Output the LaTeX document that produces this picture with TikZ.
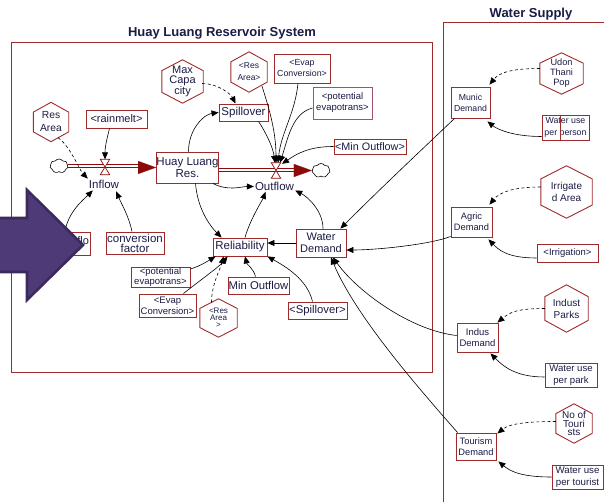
\documentclass[tikz,border=0pt]{standalone}
\usepackage{fontspec}
\setmainfont{Liberation Sans}
\usetikzlibrary{arrows.meta,calc,shapes.symbols}
\definecolor{boxred}{HTML}{9E2A2B}
\definecolor{pipered}{HTML}{8B0A0A}
\definecolor{txt}{HTML}{1B1B45}
\definecolor{potpurp}{HTML}{A0507A}
\definecolor{arrfill}{HTML}{4F3A78}
\definecolor{arrline}{HTML}{3A2A5E}
\newcommand\myfs[2]{\fontsize{#1}{#2}\selectfont}
\newcommand\hexnode[6][]{%
  \node[hexlbl,#1,minimum width=#4,minimum height=#5] (#2) at (#3) {#6};
  \draw[hexline] (#2.north) -- ($(#2.north east)!0.25!(#2.south east)$) -- ($(#2.north east)!0.75!(#2.south east)$) -- (#2.south) -- ($(#2.north west)!0.75!(#2.south west)$) -- ($(#2.north west)!0.25!(#2.south west)$) -- cycle;}
\begin{document}
\begin{tikzpicture}[x=1pt,y=-1pt,
  box/.style={draw=boxred, line width=0.9pt, fill=white, text=txt, align=center, inner sep=0pt},
  hexlbl/.style={rectangle, inner sep=0pt, text=txt, align=center},
  hexline/.style={draw=boxred, line width=0.9pt, line join=miter},
  plainlbl/.style={text=txt, inner sep=1pt, font=\myfs{11.5}{12}},
  conn/.style={draw=black, line width=0.6pt, -{Triangle[length=7pt,width=6pt]}},
  dconn/.style={conn, dash pattern=on 3pt off 2.5pt},
  pipe/.style={draw=pipered, line width=0.9pt, double=white, double distance=2.4pt},
  flowhead/.style={draw=pipered, line width=0.1pt, -{Triangle[length=18pt,width=13pt,fill=pipered]}},
  cloudn/.style={cloud, cloud puffs=7, cloud puff arc=110, draw=black, fill=white, line width=0.6pt, minimum width=18pt, minimum height=14pt, inner sep=0pt, aspect=1.2},
  valve/.style={rectangle, inner sep=0pt, minimum width=9pt, minimum height=15pt},
  valveline/.style={draw=pipered, line width=0.7pt, fill=white},
  frame/.style={draw=boxred, line width=1pt},
  title/.style={text=txt, font=\bfseries\myfs{13}{14}},
]
\useasboundingbox (0,0) rectangle (604,502);
% frames
\draw[frame] (11,43) rectangle (432,372);
\draw[frame] (443,510) -- (443,23) -- (610,23);
\node[title] (t1) at (222,33) {Huay Luang Reservoir System};
\node[title] (t2) at (531,14) {Water Supply};

% stocks, flows
\node[box, font=\myfs{11.5}{11.5}, minimum width=61pt, minimum height=31pt] (res) at (187.5,167.5) {Huay Luang\\Res.};
\node[cloudn] (cloudA) at (59,166) {};
\node[cloudn] (cloudB) at (321,170.5) {};
\node[valve] (vin) at (105,167) {};
\node[valve] (vout) at (276,170.5) {};
\draw[pipe, shorten >=17pt] (cloudA.east) -- (cloudA.east -| res.west);
\draw[flowhead] ([xshift=-18pt]res.west) -- (res.west);
\draw[pipe, shorten >=17pt] ([yshift=-2.5pt]res.east) -- ([yshift=-2.5pt]res.east -| cloudB.west);
\draw[flowhead] ([xshift=-18pt]cloudB.west) -- (cloudB.west);
\draw[valveline] (vin.north west) -- (vin.north east) -- (vin.south west) -- (vin.south east) -- cycle;
\draw[valveline] (vout.north west) -- (vout.north east) -- (vout.south west) -- (vout.south east) -- cycle;
\node[plainlbl] (inflowlbl) at (104,184) {Inflow};
\node[plainlbl] (outlbl) at (274.5,186.5) {Outflow};

% left system boxes
\node[box, font=\myfs{11}{11}, minimum width=61pt, minimum height=18pt] (rainmelt) at (116.5,119) {<rainmelt>};
\node[box, font=\myfs{11}{11}, minimum width=30pt, minimum height=23pt] (inflo) at (75,243.5) {\hspace*{7pt}\raisebox{6pt}{Inflo}};
\node[box, font=\myfs{11.5}{10}, minimum width=58pt, minimum height=22pt] (convfactor) at (135,243) {conversion\\factor};
\node[box, font=\myfs{11.5}{12}, minimum width=49pt, minimum height=17pt] (spill) at (243.5,112.5) {Spillover};
\node[box, font=\myfs{8.8}{11}, minimum width=56pt, minimum height=29pt] (evap) at (302,68.5) {<Evap\\Conversion>};
\node[box, draw=potpurp, font=\myfs{9.5}{11}, minimum width=59pt, minimum height=32pt] (potev) at (342.5,103) {<potential\\evapotrans>};
\node[box, font=\myfs{10.8}{12}, minimum width=72pt, minimum height=15pt] (minout) at (370,146.5) {<Min Outflow>};
\node[box, font=\myfs{11.5}{12}, minimum width=54pt, minimum height=18pt] (rel) at (240,247) {Reliability};
\node[box, font=\myfs{11}{12}, minimum width=50pt, minimum height=28pt] (wd) at (321,243) {Water\\Demand};
\node[box, font=\myfs{9.5}{10}, minimum width=59pt, minimum height=20pt] (potev2) at (160.5,277) {<potential\\evapotrans>};
\node[box, font=\myfs{9.5}{11}, minimum width=57pt, minimum height=23pt] (evap2) at (167.5,305.5) {<Evap\\Conversion>};
\node[box, font=\myfs{11.3}{12}, minimum width=61pt, minimum height=17pt] (minout2) at (258.5,285.5) {Min Outflow};
\node[box, font=\myfs{11.3}{12}, minimum width=59pt, minimum height=17pt] (spill2) at (317.5,310.5) {<Spillover>};

\hexnode[font=\myfs{10.3}{13}]{resarea}{51,122}{35pt}{39pt}{Res\\Area}
\hexnode[font=\myfs{11}{10}]{maxcap}{182.5,81.5}{41pt}{43pt}{Max\\Capa\\city}
\hexnode[font=\myfs{8.5}{12}]{resarea2}{249,72}{36pt}{40pt}{<Res\\Area>}
\hexnode[font=\myfs{8}{7}]{resarea3}{218.5,318}{37pt}{38pt}{<Res\\Area\\>}

% water supply boxes
\node[box, font=\myfs{8.7}{11}, minimum width=39pt, minimum height=31pt] (munic) at (470.5,102.5) {Munic\\Demand};
\node[box, font=\myfs{8.8}{12}, minimum width=47pt, minimum height=25pt] (wupp) at (565.5,127.5) {Water use\\per person};
\draw[boxred, line width=0.6pt] (wupp.north -| 560,0) -- (wupp.south -| 560,0);
\node[box, font=\myfs{9.3}{11}, minimum width=41pt, minimum height=30pt] (agric) at (471.5,222) {Agric\\Demand};
\node[box, font=\myfs{9.5}{11}, minimum width=61pt, minimum height=18pt] (irrigation) at (567.5,253) {<Irrigation>};
\node[box, font=\myfs{9.5}{11}, minimum width=41pt, minimum height=29pt] (indus) at (477.5,337.5) {Indus\\Demand};
\node[box, font=\myfs{9.6}{11.5}, minimum width=52pt, minimum height=24pt] (wupk) at (571,375) {Water use\\per park};
\node[box, font=\myfs{9.3}{11}, minimum width=40pt, minimum height=27pt] (tourism) at (476,446.5) {Tourism\\Demand};
\node[box, font=\myfs{9.7}{11.5}, minimum width=51pt, minimum height=24pt] (wupt) at (577.5,477) {Water use\\per tourist};

\hexnode[font=\myfs{9.2}{10}]{udon}{561.5,73.5}{43pt}{41pt}{Udon\\Thani\\Pop}
\hexnode[font=\myfs{10}{12}]{irrig}{566.5,192}{51pt}{52pt}{Irrigate\\d Area}
\hexnode[font=\myfs{10}{12}]{indust}{566.5,308.5}{43pt}{47pt}{Indust\\Parks}
\hexnode[font=\myfs{10}{8.5}]{tour}{574,423.5}{36pt}{39pt}{No of\\Touri\\sts}

% connectors: inflow
\draw[dconn] ([shift={(7,-4)}]resarea.south) .. controls +(12,8) and +(-8,-8) .. (inflowlbl.north west);
\draw[conn] ([xshift=-7pt]rainmelt.south) .. controls +(-3,12) and +(0,-12) .. (vin.north);
\draw[conn] ([shift={(-10,0)}]inflo.north) .. controls +(3,-20) and +(-8,8) .. ([shift={(5,1)}]inflowlbl.south west);
\draw[conn] ([shift={(-3,0)}]convfactor.north) .. controls +(-3,-15) and +(5,12) .. ([shift={(-4,2)}]inflowlbl.south east);
% reservoir / outflow
\draw[conn] ([shift={(1,0)}]res.north) .. controls +(0,-22) and +(-15,2) .. (spill.west);
\draw[dconn] ([shift={(-1,2)}]maxcap.east) .. controls +(15,0) and +(-5,-10) .. ([shift={(-8,0)}]spill.north);
\draw[conn] ([shift={(15,0)}]spill.south) .. controls +(8,12) and +(-2,-15) .. ([shift={(-1,0)}]vout.north);
\draw[conn] ([shift={(13,-6)}]resarea2.south) .. controls +(8,25) and +(0,-30) .. (vout.north);
\draw[conn] ([shift={(-4,0)}]evap.south) .. controls +(-3,30) and +(3,-30) .. ([shift={(2,0)}]vout.north);
\draw[conn] ([shift={(0,5)}]potev.west) .. controls +(-20,5) and +(8,-25) .. ([shift={(4,0)}]vout.north);
\draw[conn] (minout.west) .. controls +(-25,0) and +(15,-10) .. ([shift={(6,1)}]vout.north);
\draw[conn] ([shift={(-6,0)}]res.south east) .. controls +(15,8) and +(-12,0) .. (outlbl.west);
\draw[conn] ([shift={(8,0)}]res.south) .. controls +(2,25) and +(-12,-12) .. ([shift={(9,0)}]rel.north west);
\draw[conn] ([shift={(5,0)}]rel.north) .. controls +(5,-18) and +(-3,8) .. ([shift={(-9,0)}]outlbl.south);
\draw[conn] ([shift={(2,0)}]wd.north) .. controls +(0,-18) and +(12,6) .. ([shift={(0,4)}]outlbl.east);
\draw[conn] (wd.west) -- (wd.west -| rel.east);
% demand inputs
\draw[conn] ([shift={(4,0)}]munic.south west) .. controls +(-40,38) and +(40,-40) .. ([shift={(-6,0)}]wd.north east);
\draw[conn] ([shift={(0,-1)}]agric.south west) .. controls +(-20,8) and +(30,0) .. ([shift={(0,7)}]wd.east);
\draw[conn] ([shift={(0,-2)}]indus.west) .. controls +(-45,-5) and +(25,35) .. ([shift={(12,0)}]wd.south);
\draw[conn] ([shift={(2,0)}]tourism.north west) .. controls +(-35,-40) and +(25,60) .. ([shift={(10,0)}]wd.south);
% reliability inputs
\draw[conn] ([shift={(0,-8)}]potev2.east) .. controls +(10,-3) and +(-5,3) .. ([shift={(3,0)}]rel.south west);
\draw[conn] ([shift={(-13,0)}]evap2.north east) .. controls +(15,-12) and +(-8,10) .. ([shift={(15,0)}]rel.south west);
\draw[dconn] ([shift={(-7,3.5)}]resarea3.north) .. controls +(0,-18) and +(-3,12) .. ([shift={(11,0)}]rel.south west);
\draw[conn] ([shift={(-3,0)}]minout2.north) .. controls +(-2,-8) and +(2,8) .. ([shift={(5,0)}]rel.south);
\draw[conn] ([shift={(-5,0)}]spill2.north) .. controls +(-5,-22) and +(18,10) .. (rel.south east);
% water supply internal
\draw[dconn] ([shift={(0,-5)}]udon.west) .. controls +(-28,0) and +(10,-12) .. ([shift={(-1,-2)}]munic.north east);
\draw[conn] ([shift={(0,9)}]wupp.west) .. controls +(-28,0) and +(10,8) .. ([shift={(-3,3)}]munic.south east);
\draw[dconn] ([shift={(0,-5)}]irrig.west) .. controls +(-28,0) and +(10,-12) .. ([shift={(-3,-2)}]agric.north east);
\draw[conn] ([shift={(0,5)}]irrigation.west) .. controls +(-30,0) and +(10,10) .. ([shift={(-4,2)}]agric.south east);
\draw[dconn] (indust.west) .. controls +(-28,0) and +(12,-10) .. ([shift={(-1,0)}]indus.north east);
\draw[conn] ([shift={(0,2)}]wupk.west) .. controls +(-30,0) and +(12,12) .. ([shift={(-8,1)}]indus.south east);
\draw[dconn] ([shift={(0,-2)}]tour.west) .. controls +(-28,0) and +(12,-10) .. ([shift={(1,1)}]tourism.north east);
\draw[conn] (wupt.west) .. controls +(-30,0) and +(12,10) .. ([shift={(2,1)}]tourism.south east);

% big purple arrow
\filldraw[fill=arrfill, draw=arrline, line width=2.6pt, line join=miter] (-6,218) -- (27,218) -- (27,190) -- (83,245) -- (27,300) -- (27,272) -- (-6,272) -- cycle;
\end{tikzpicture}
\end{document}
